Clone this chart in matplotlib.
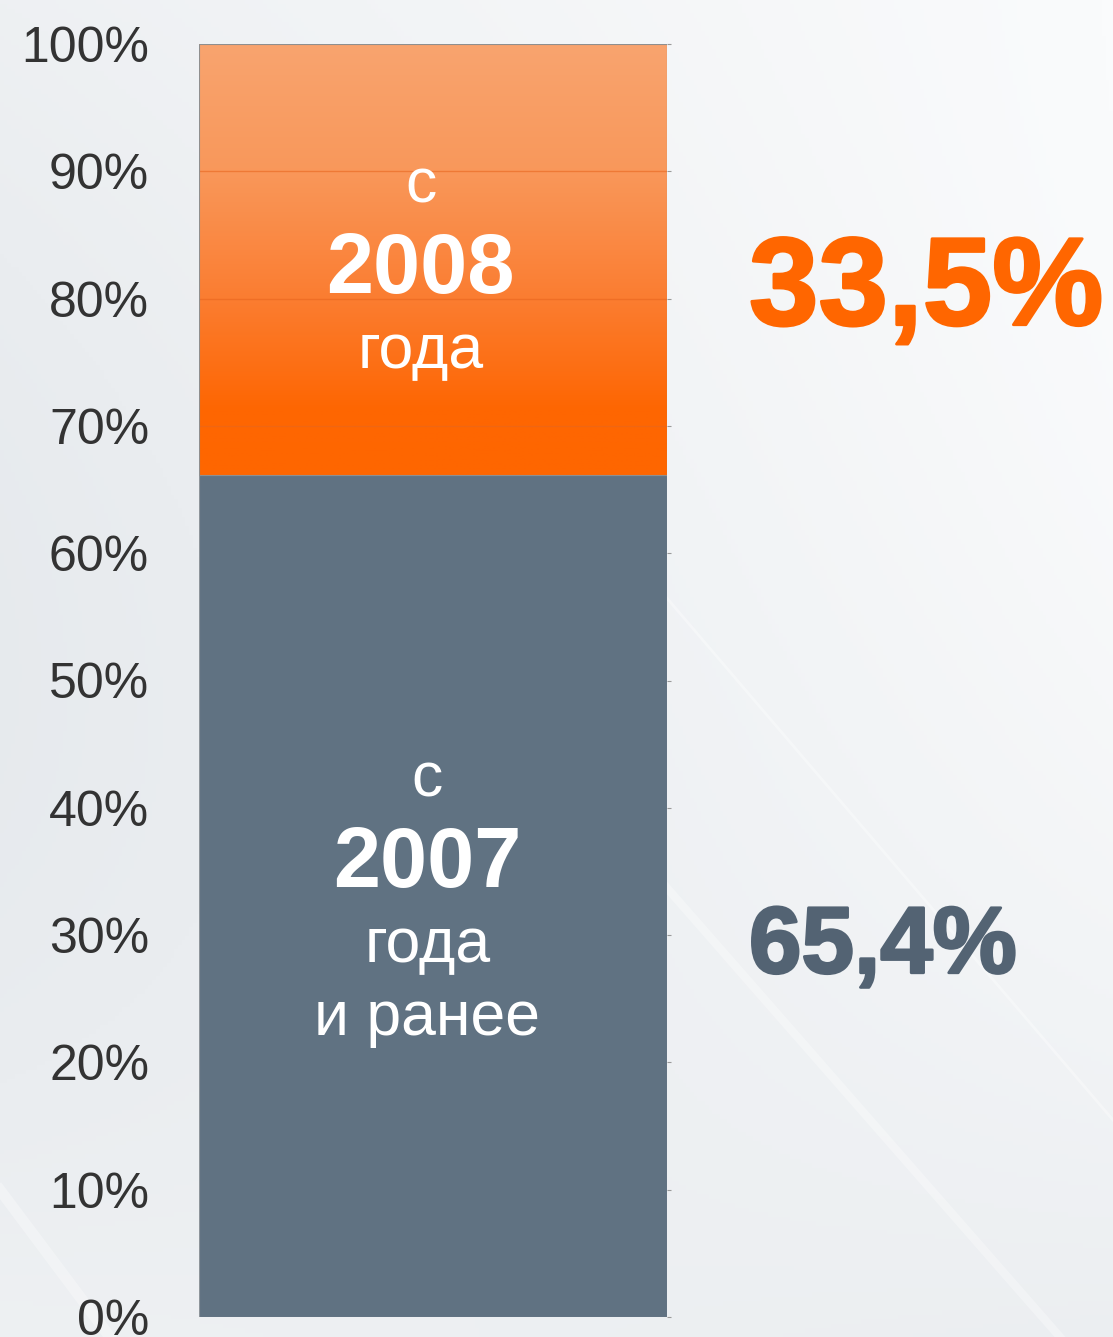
import numpy as np
import matplotlib.pyplot as plt
import matplotlib.patheffects as pe
from matplotlib.colors import LinearSegmentedColormap

plt.rcParams['font.family'] = ['Liberation Sans', 'DejaVu Sans']

# Доли по году, %
segments = ['с 2007 года и ранее', 'с 2008 года']
shares = [65.4, 33.5]
share_labels = ['65,4%', '33,5%']
seg_lines = [['с', '2007', 'года', 'и ранее'], ['с', '2008', 'года']]
ticks = list(range(0, 101, 10))
tick_labels = [f'{t}%' for t in ticks]

total = sum(shares)
heights = [s / total * 100 for s in shares]
bottoms = [0, heights[0]]

fig = plt.figure(figsize=(11.13, 13.37), dpi=100)

# фон: светло-серый градиент с бликами
bg = fig.add_axes([0, 0, 1, 1], zorder=-10)
xx, yy = np.meshgrid(np.linspace(0, 1, 300), np.linspace(0, 1, 300))
v = 0.5 + 0.5 * xx - 0.6 * yy ** 2 * xx - 0.3 * np.sin(np.pi * yy) * (1 - xx)
bg_cmap = LinearSegmentedColormap.from_list('bg', ['#e2e6ea', '#fafbfc'])
bg.imshow(v, cmap=bg_cmap, vmin=0, vmax=1, aspect='auto',
          extent=(0, 1113, 1337, 0))
bg.plot([660, 1113], [590, 1120], color='white', lw=2, alpha=0.35)
bg.plot([660, 1060], [880, 1337], color='white', lw=6, alpha=0.3)
bg.plot([0, 110], [1190, 1337], color='white', lw=8, alpha=0.3)
bg.set_xlim(0, 1113)
bg.set_ylim(1337, 0)
bg.axis('off')

ax = fig.add_axes([199 / 1113, 20 / 1337, 468 / 1113, 1273 / 1337])
ax.patch.set_alpha(0)

# нижний сегмент
ax.bar(0, heights[0], width=1, bottom=bottoms[0], color='#607282',
       edgecolor='#8e959b', linewidth=0.8, zorder=2)

# верхний сегмент с градиентом
top_bar = ax.bar(0, heights[1], width=1, bottom=bottoms[1], facecolor='none',
                 edgecolor='#8f8f8f', linewidth=0.8, zorder=4)[0]
orange_cmap = LinearSegmentedColormap.from_list(
    'orange', [(0, '#ff6600'), (0.15, '#fe6602'), (0.41, '#fb7d31'),
               (0.71, '#f9985b'), (1, '#f8a46f')])
grad = np.linspace(0, 1, 256).reshape(-1, 1)
img = ax.imshow(grad, cmap=orange_cmap, origin='lower', aspect='auto',
                extent=(-0.5, 0.5, bottoms[1], bottoms[1] + heights[1]), zorder=3)
img.set_clip_path(top_bar)

# линии сетки видны только на оранжевом
grid_y = [t for t in ticks if bottoms[1] < t < 100]
ax.hlines(grid_y, -0.5, 0.5, color='#e8661e', lw=1, alpha=0.6, zorder=3.5)

ax.set_xlim(-0.5, 0.5)
ax.set_ylim(0, 100)
ax.set_xticks([])
ax.set_yticks(ticks, tick_labels)
ax.tick_params(axis='y', left=False, right=True, length=3, width=0.8,
               color='#9a9a9a', labelsize=36, labelcolor='#333333', pad=33)
for s in ax.spines.values():
    s.set_visible(False)

# подписи внутри столбца
inner_styles = [
    [('normal', 45, 71.5), ('bold', 61, 6.7), ('normal', 45, -47.3), ('normal', 45, -99.9)],
    [('normal', 45, 40.9), ('bold', 61, -23.9), ('normal', 45, -77.9)],
]
inner_dx = [-4, -9]
pct_colors = ['#536373', '#ff6600']
pct_sizes = [68, 90]
pct_dy = [-55.2, -46.9]

for i in range(len(shares)):
    center = bottoms[i] + heights[i] / 2
    for line, (weight, size, dy) in zip(seg_lines[i], inner_styles[i]):
        ax.annotate(line, xy=(0, center), xytext=(inner_dx[i], dy),
                    textcoords='offset points', ha='center', va='baseline',
                    color='white', fontsize=size, fontweight=weight, zorder=5)
    ax.annotate(share_labels[i], xy=(0.5, center), xytext=(59, pct_dy[i]),
                textcoords='offset points', ha='left', va='baseline',
                fontsize=pct_sizes[i], fontweight='bold', color=pct_colors[i],
                annotation_clip=False,
                path_effects=[pe.withStroke(linewidth=2, foreground=pct_colors[i])])

fig.savefig('out.png', dpi=100)
